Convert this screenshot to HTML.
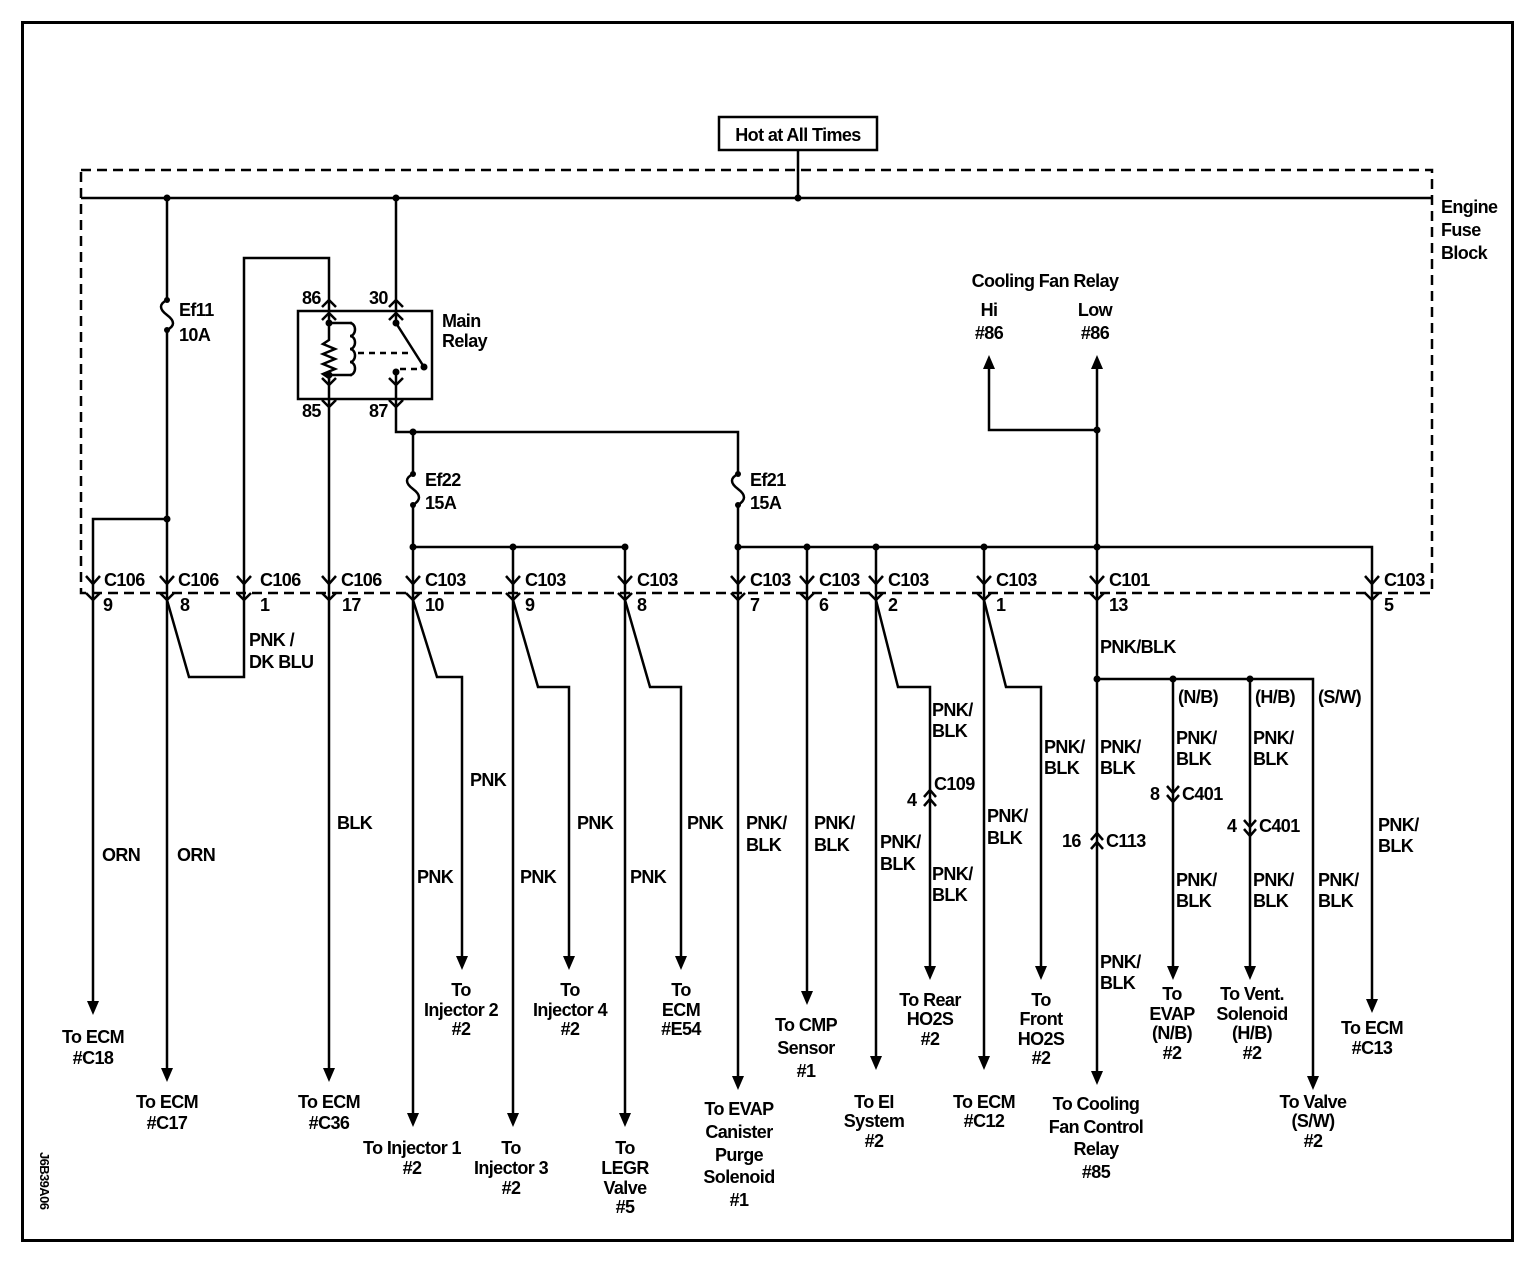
<!DOCTYPE html>
<html><head><meta charset="utf-8"><style>
html,body{margin:0;padding:0;background:#fff}
svg{display:block}
text{font-family:"Liberation Sans",Arial,sans-serif;font-size:18px;font-weight:bold;letter-spacing:-0.6px;fill:#000}
.m{text-anchor:middle}
</style></head><body>
<svg width="1536" height="1280" viewBox="0 0 1536 1280" xmlns="http://www.w3.org/2000/svg">
<rect x="0" y="0" width="1536" height="1280" fill="#fff"/>
<rect x="22.5" y="22.5" width="1490" height="1218" fill="none" stroke="#000" stroke-width="3"/>
<rect x="719" y="117" width="158" height="33" fill="none" stroke="#000" stroke-width="2.5"/>
<text x="798" y="141" class="m">Hot at All Times</text>
<rect x="81" y="170" width="1351" height="423" fill="none" stroke="#000" stroke-width="2.5" stroke-dasharray="10,6"/>
<text x="1441" y="213">Engine</text><text x="1441" y="236">Fuse</text><text x="1441" y="259">Block</text>

<g fill="none" stroke="#000" stroke-width="2.5">
<path d="M798 150V198M81 198H1432"/>
<path d="M167 198V300M167 330V1070M167 519H93V1003"/>
<path d="M167 300c-8 4-8 9 0 15c8 6 8 11 0 15"/>
<path d="M244 600V258H329V300M396 198V300"/>
<rect x="298" y="311" width="134" height="88"/>
<path d="M329 300V323M329 375V1070"/>
<path d="M329 323H352M329 375H352M329 323V340l-6 4l12 5l-12 5l12 5l-12 5l12 5l-12 5l6 4V375"/>
<path d="M350 323a5 6.5 0 0 1 0 13a5 6.5 0 0 1 0 13a5 6.5 0 0 1 0 13a5 6.5 0 0 1 0 13"/>
<path d="M396 300V323L424 367M396 372V399"/>
<path d="M358 353H412M400 369H420" stroke-dasharray="6,5"/>
<path d="M322 307L329 300L336 307M322 320L329 313L336 320M389 307L396 300L403 307M389 320L396 313L403 320"/>
<path d="M322 378L329 385L336 378M322 400L329 407L336 400M389 378L396 385L403 378M389 400L396 407L403 400"/>
<path d="M396 399V432H738V474M413 432V474M413 505V1115M738 505V1078"/>
<path d="M413 474c-8 4-8 9 0 15c8 6 8 11 0 16M738 474c-8 4-8 9 0 15c8 6 8 11 0 16"/>
<path d="M413 547H625M738 547H1372V1001"/>
<path d="M513 547V1115M625 547V1115M807 547V993M876 547V1058M984 547V1058M1097 367V1073M1097 430H989V367"/>
<path d="M413 600L437 677H462V958M513 600L538 687H569V958M625 600L650 687H681V958M167 600L189 677H244V600"/>
<path d="M876 600L898 687H930V968M984 600L1006 687H1041V968"/>
<path d="M1097 679H1313V1078M1173 679V968M1250 679V968"/>
<!-- connectors -->
<path d="M86 576L93 584L100 576M86 593L93 600L100 593M160 576L167 584L174 576M160 593L167 600L174 593M237 576L244 584L251 576M237 593L244 600L251 593M322 576L329 584L336 576M322 593L329 600L336 593M406 576L413 584L420 576M406 593L413 600L420 593M506 576L513 584L520 576M506 593L513 600L520 593M618 576L625 584L632 576M618 593L625 600L632 593M731 576L738 584L745 576M731 593L738 600L745 593M800 576L807 584L814 576M800 593L807 600L814 593M869 576L876 584L883 576M869 593L876 600L883 593M977 576L984 584L991 576M977 593L984 600L991 593M1090 576L1097 584L1104 576M1090 593L1097 600L1104 593M1365 576L1372 584L1379 576M1365 593L1372 600L1379 593"/>
<path d="M924 797L930 790L936 797M924 806L930 799L936 806M1091 840L1097 833L1103 840M1091 849L1097 842L1103 849"/>
<path d="M1167 786L1173 793L1179 786M1167 795L1173 802L1179 795M1244 820L1250 827L1256 820M1244 829L1250 836L1256 829"/>
</g>
<rect x="82" y="171" width="0" height="0"/>
<g fill="#000">
<circle cx="798" cy="198" r="3.5"/><circle cx="167" cy="198" r="3.5"/><circle cx="396" cy="198" r="3.5"/>
<circle cx="167" cy="519" r="3.5"/><circle cx="167" cy="300" r="3"/><circle cx="167" cy="330" r="3"/>
<circle cx="413" cy="474" r="3"/><circle cx="413" cy="505" r="3"/><circle cx="738" cy="474" r="3"/><circle cx="738" cy="505" r="3"/>
<circle cx="413" cy="432" r="3.5"/><circle cx="413" cy="547" r="3.5"/><circle cx="513" cy="547" r="3.5"/><circle cx="625" cy="547" r="3.5"/>
<circle cx="738" cy="547" r="3.5"/><circle cx="807" cy="547" r="3.5"/><circle cx="876" cy="547" r="3.5"/><circle cx="984" cy="547" r="3.5"/><circle cx="1097" cy="547" r="3.5"/>
<circle cx="1097" cy="430" r="3.5"/><circle cx="1097" cy="679" r="3.5"/><circle cx="1173" cy="679" r="3.5"/><circle cx="1250" cy="679" r="3.5"/>
<circle cx="329" cy="323" r="3.5"/><circle cx="329" cy="375" r="3.5"/><circle cx="396" cy="323" r="3.5"/><circle cx="424" cy="367" r="3.5"/><circle cx="396" cy="372" r="3.5"/>
<path d="M87 1001h12l-6 14zM161 1068h12l-6 14zM323 1068h12l-6 14zM407 1113h12l-6 14zM456 956h12l-6 14zM507 1113h12l-6 14zM563 956h12l-6 14zM619 1113h12l-6 14zM675 956h12l-6 14zM732 1076h12l-6 14zM801 991h12l-6 14zM870 1056h12l-6 14zM924 966h12l-6 14zM978 1056h12l-6 14zM1035 966h12l-6 14zM1091 1071h12l-6 14zM1167 966h12l-6 14zM1244 966h12l-6 14zM1307 1076h12l-6 14zM1366 999h12l-6 14z"/>
<path d="M983 369h12l-6 -14zM1091 369h12l-6 -14z"/>
</g>

<text x="179" y="316">Ef11</text><text x="179" y="341">10A</text>
<text x="302" y="304">86</text><text x="369" y="304">30</text>
<text x="302" y="417">85</text><text x="369" y="417">87</text>
<text x="442" y="327">Main</text><text x="442" y="347">Relay</text>
<text x="425" y="486">Ef22</text><text x="425" y="509">15A</text>
<text x="750" y="486">Ef21</text><text x="750" y="509">15A</text>
<text x="1045" y="287" class="m">Cooling Fan Relay</text>
<text x="989" y="316" class="m">Hi</text><text x="989" y="339" class="m">#86</text>
<text x="1095" y="316" class="m">Low</text><text x="1095" y="339" class="m">#86</text>

<text x="104" y="586">C106</text><text x="178" y="586">C106</text><text x="260" y="586">C106</text><text x="341" y="586">C106</text>
<text x="425" y="586">C103</text><text x="525" y="586">C103</text><text x="637" y="586">C103</text><text x="750" y="586">C103</text>
<text x="819" y="586">C103</text><text x="888" y="586">C103</text><text x="996" y="586">C103</text><text x="1109" y="586">C101</text><text x="1384" y="586">C103</text>
<text x="103" y="611">9</text><text x="180" y="611">8</text><text x="260" y="611">1</text><text x="342" y="611">17</text>
<text x="425" y="611">10</text><text x="525" y="611">9</text><text x="637" y="611">8</text><text x="750" y="611">7</text>
<text x="819" y="611">6</text><text x="888" y="611">2</text><text x="996" y="611">1</text><text x="1109" y="611">13</text><text x="1384" y="611">5</text>

<text x="249" y="646">PNK /</text><text x="249" y="668">DK BLU</text>
<text x="102" y="861">ORN</text><text x="177" y="861">ORN</text><text x="337" y="829">BLK</text>
<text x="417" y="883">PNK</text><text x="470" y="786">PNK</text>
<text x="520" y="883">PNK</text><text x="577" y="829">PNK</text>
<text x="630" y="883">PNK</text><text x="687" y="829">PNK</text>
<text x="746" y="829">PNK/</text><text x="746" y="851">BLK</text>
<text x="814" y="829">PNK/</text><text x="814" y="851">BLK</text>
<text x="880" y="848">PNK/</text><text x="880" y="870">BLK</text>
<text x="932" y="716">PNK/</text><text x="932" y="737">BLK</text>
<text x="932" y="880">PNK/</text><text x="932" y="901">BLK</text>
<text x="907" y="806">4</text><text x="934" y="790">C109</text>
<text x="987" y="822">PNK/</text><text x="987" y="844">BLK</text>
<text x="1044" y="753">PNK/</text><text x="1044" y="774">BLK</text>
<text x="1100" y="653">PNK/BLK</text>
<text x="1100" y="753">PNK/</text><text x="1100" y="774">BLK</text>
<text x="1062" y="847">16</text><text x="1106" y="847">C113</text>
<text x="1100" y="968">PNK/</text><text x="1100" y="989">BLK</text>
<text x="1178" y="703">(N/B)</text><text x="1255" y="703">(H/B)</text><text x="1318" y="703">(S/W)</text>
<text x="1176" y="744">PNK/</text><text x="1176" y="765">BLK</text>
<text x="1150" y="800">8</text><text x="1182" y="800">C401</text>
<text x="1253" y="744">PNK/</text><text x="1253" y="765">BLK</text>
<text x="1227" y="832">4</text><text x="1259" y="832">C401</text>
<text x="1176" y="886">PNK/</text><text x="1176" y="907">BLK</text>
<text x="1253" y="886">PNK/</text><text x="1253" y="907">BLK</text>
<text x="1318" y="886">PNK/</text><text x="1318" y="907">BLK</text>
<text x="1378" y="831">PNK/</text><text x="1378" y="852">BLK</text>

<text x="93" y="1043" class="m">To ECM</text><text x="93" y="1064" class="m">#C18</text>
<text x="167" y="1108" class="m">To ECM</text><text x="167" y="1129" class="m">#C17</text>
<text x="329" y="1108" class="m">To ECM</text><text x="329" y="1129" class="m">#C36</text>
<text x="412" y="1154" class="m">To Injector 1</text><text x="412" y="1174" class="m">#2</text>
<text x="461" y="996" class="m">To</text><text x="461" y="1016" class="m">Injector 2</text><text x="461" y="1035" class="m">#2</text>
<text x="511" y="1154" class="m">To</text><text x="511" y="1174" class="m">Injector 3</text><text x="511" y="1194" class="m">#2</text>
<text x="570" y="996" class="m">To</text><text x="570" y="1016" class="m">Injector 4</text><text x="570" y="1035" class="m">#2</text>
<text x="625" y="1154" class="m">To</text><text x="625" y="1174" class="m">LEGR</text><text x="625" y="1194" class="m">Valve</text><text x="625" y="1213" class="m">#5</text>
<text x="681" y="996" class="m">To</text><text x="681" y="1016" class="m">ECM</text><text x="681" y="1035" class="m">#E54</text>
<text x="739" y="1115" class="m">To EVAP</text><text x="739" y="1138" class="m">Canister</text><text x="739" y="1161" class="m">Purge</text><text x="739" y="1183" class="m">Solenoid</text><text x="739" y="1206" class="m">#1</text>
<text x="806" y="1031" class="m">To CMP</text><text x="806" y="1054" class="m">Sensor</text><text x="806" y="1077" class="m">#1</text>
<text x="874" y="1108" class="m">To EI</text><text x="874" y="1127" class="m">System</text><text x="874" y="1147" class="m">#2</text>
<text x="930" y="1006" class="m">To Rear</text><text x="930" y="1025" class="m">HO2S</text><text x="930" y="1045" class="m">#2</text>
<text x="984" y="1108" class="m">To ECM</text><text x="984" y="1127" class="m">#C12</text>
<text x="1041" y="1006" class="m">To</text><text x="1041" y="1025" class="m">Front</text><text x="1041" y="1045" class="m">HO2S</text><text x="1041" y="1064" class="m">#2</text>
<text x="1096" y="1110" class="m">To Cooling</text><text x="1096" y="1133" class="m">Fan Control</text><text x="1096" y="1155" class="m">Relay</text><text x="1096" y="1178" class="m">#85</text>
<text x="1172" y="1000" class="m">To</text><text x="1172" y="1020" class="m">EVAP</text><text x="1172" y="1039" class="m">(N/B)</text><text x="1172" y="1059" class="m">#2</text>
<text x="1252" y="1000" class="m">To Vent.</text><text x="1252" y="1020" class="m">Solenoid</text><text x="1252" y="1039" class="m">(H/B)</text><text x="1252" y="1059" class="m">#2</text>
<text x="1313" y="1108" class="m">To Valve</text><text x="1313" y="1127" class="m">(S/W)</text><text x="1313" y="1147" class="m">#2</text>
<text x="1372" y="1034" class="m">To ECM</text><text x="1372" y="1054" class="m">#C13</text>
<text x="0" y="0" transform="translate(40,1152) rotate(90)" style="font-size:13px">J6B39A06</text>
</svg>
</body></html>
